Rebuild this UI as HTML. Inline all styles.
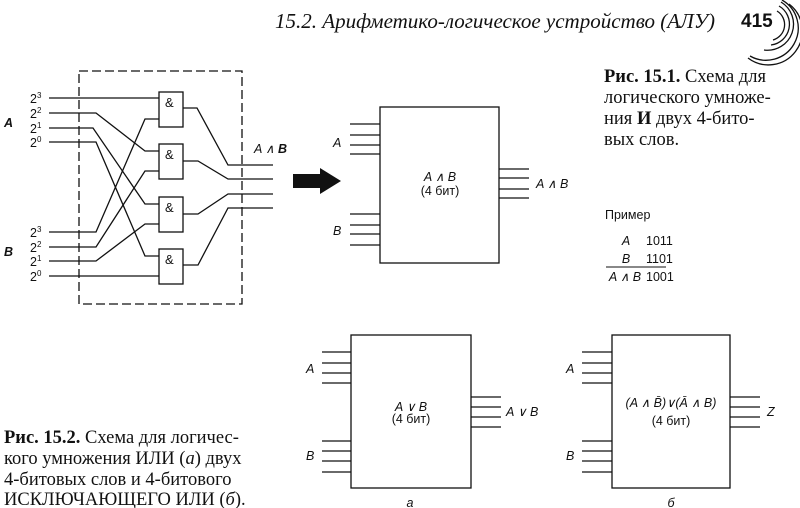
<!DOCTYPE html>
<html><head><meta charset="utf-8"><style>
html,body{margin:0;padding:0;background:#fff;}
svg{display:block}
.s{font-family:"Liberation Sans",sans-serif;}
.r{font-family:"Liberation Serif",serif;}
</style></head><body>
<svg width="800" height="508" viewBox="0 0 800 508" xmlns="http://www.w3.org/2000/svg">
<g fill="none" stroke="#111" stroke-width="1.3">
<rect x="79" y="71" width="163" height="233" stroke-dasharray="9,4"/>
<rect x="159" y="92" width="24" height="35"/>
<rect x="159" y="144" width="24" height="35"/>
<rect x="159" y="197" width="24" height="35"/>
<rect x="159" y="249" width="24" height="35"/>
<polyline points="49,98 159,98"/>
<polyline points="49,113 96,113 145,151 159,151"/>
<polyline points="49,128 93,128 145,204 159,204"/>
<polyline points="49,142 96,142 145,256 159,256"/>
<polyline points="49,232 96,232 145,119 159,119"/>
<polyline points="49,247 96,247 145,171 159,171"/>
<polyline points="49,261 96,261 145,224 159,224"/>
<polyline points="49,276 159,276"/>
<polyline points="183,108 197,108 228,165 273,165"/>
<polyline points="183,161 198,161 228,179 273,179"/>
<polyline points="183,214 198,214 228,194 273,194"/>
<polyline points="183,265 198,265 228,208 273,208"/>
<rect x="380" y="107" width="119" height="156"/>
<path d="M350 124H380M350 135H380M350 145H380M350 154H380M350 214H380M350 225H380M350 234H380M350 245H380M499 169H529M499 178H529M499 189H529M499 198H529"/>
<rect x="351" y="335" width="120" height="153"/>
<path d="M322 352H351M322 363H351M322 373H351M322 383H351M322 441H351M322 451H351M322 461H351M322 472H351M471 397H501M471 407H501M471 417H501M471 427H501"/>
<rect x="612" y="335" width="118" height="153"/>
<path d="M582 352H612M582 363H612M582 373H612M582 383H612M582 441H612M582 451H612M582 461H612M582 472H612M730 397H760M730 407H760M730 417H760M730 427H760"/>
<path d="M606 267H666" stroke-width="1"/>
<path d="M777 11 A16 16 0 0 1 773 40" />
<path d="M779 6 A21 21 0 0 1 771 45" />
<path d="M781 2 A26 26 0 0 1 764 50" />
<path d="M782 0 A31 31 0 0 1 750 56" />
<path d="M789 4 A33 33 0 0 1 748 58" />
</g>
<polygon points="293,174 320,174 320,168 341,181 320,194 320,188 293,188" fill="#111"/>
<g class="s" font-size="12.5" fill="#111">
<text x="30" y="103">2<tspan font-size="8" dy="-5">3</tspan></text>
<text x="30" y="118">2<tspan font-size="8" dy="-5">2</tspan></text>
<text x="30" y="133">2<tspan font-size="8" dy="-5">1</tspan></text>
<text x="30" y="147">2<tspan font-size="8" dy="-5">0</tspan></text>
<text x="30" y="237">2<tspan font-size="8" dy="-5">3</tspan></text>
<text x="30" y="252">2<tspan font-size="8" dy="-5">2</tspan></text>
<text x="30" y="266">2<tspan font-size="8" dy="-5">1</tspan></text>
<text x="30" y="281">2<tspan font-size="8" dy="-5">0</tspan></text>
<text x="4" y="127" font-style="italic" font-weight="bold">A</text>
<text x="4" y="256" font-style="italic" font-weight="bold">B</text>
<text x="165" y="107" font-size="13">&amp;</text>
<text x="165" y="159" font-size="13">&amp;</text>
<text x="165" y="212" font-size="13">&amp;</text>
<text x="165" y="264" font-size="13">&amp;</text>
<text x="254" y="153" font-style="italic">A ∧ <tspan font-weight="bold">B</tspan></text>
<text x="333" y="147" font-style="italic">A</text>
<text x="333" y="235" font-style="italic">B</text>
<text x="440" y="181" text-anchor="middle" font-style="italic">A ∧ B</text>
<text x="440" y="195" text-anchor="middle">(4 бит)</text>
<text x="536" y="188" font-style="italic">A ∧ B</text>
<text x="605" y="219">Пример</text>
<text x="626" y="245" font-style="italic" text-anchor="middle">A</text>
<text x="646" y="245">1011</text>
<text x="626" y="263" font-style="italic" text-anchor="middle">B</text>
<text x="646" y="263">1101</text>
<text x="625" y="281" font-style="italic" text-anchor="middle">A ∧ B</text>
<text x="646" y="281">1001</text>
<text x="306" y="373" font-style="italic">A</text>
<text x="306" y="460" font-style="italic">B</text>
<text x="411" y="411" text-anchor="middle" font-style="italic">A ∨ B</text>
<text x="411" y="423" text-anchor="middle">(4 бит)</text>
<text x="506" y="416" font-style="italic">A ∨ B</text>
<text x="410" y="507" font-style="italic" text-anchor="middle">а</text>
<text x="566" y="373" font-style="italic">A</text>
<text x="566" y="460" font-style="italic">B</text>
<text x="671" y="407" text-anchor="middle" font-style="italic">(A ∧ B̄)∨(Ā ∧ B)</text>
<text x="671" y="425" text-anchor="middle">(4 бит)</text>
<text x="767" y="416" font-style="italic">Z</text>
<text x="671" y="507" font-style="italic" text-anchor="middle">б</text>
</g>
<text class="r" x="275" y="28" font-size="21" font-style="italic" fill="#111">15.2. Арифметико-логическое устройство (АЛУ)</text>
<text class="s" x="741" y="27" font-size="19" font-weight="bold" fill="#111">415</text>
<g class="r" font-size="18.5" fill="#111">
<text x="604" y="82"><tspan font-weight="bold">Рис. 15.1.</tspan> Схема для</text>
<text x="604" y="103">логического умноже-</text>
<text x="604" y="124">ния <tspan font-weight="bold">И</tspan> двух 4-бито-</text>
<text x="604" y="145">вых слов.</text>
<text x="4" y="443"><tspan font-weight="bold">Рис. 15.2.</tspan> Схема для логичес-</text>
<text x="4" y="464">кого умножения ИЛИ (<tspan font-style="italic">а</tspan>) двух</text>
<text x="4" y="485">4-битовых слов и 4-битового</text>
<text x="4" y="505">ИСКЛЮЧАЮЩЕГО ИЛИ (<tspan font-style="italic">б</tspan>).</text>
</g>
</svg>
</body></html>
